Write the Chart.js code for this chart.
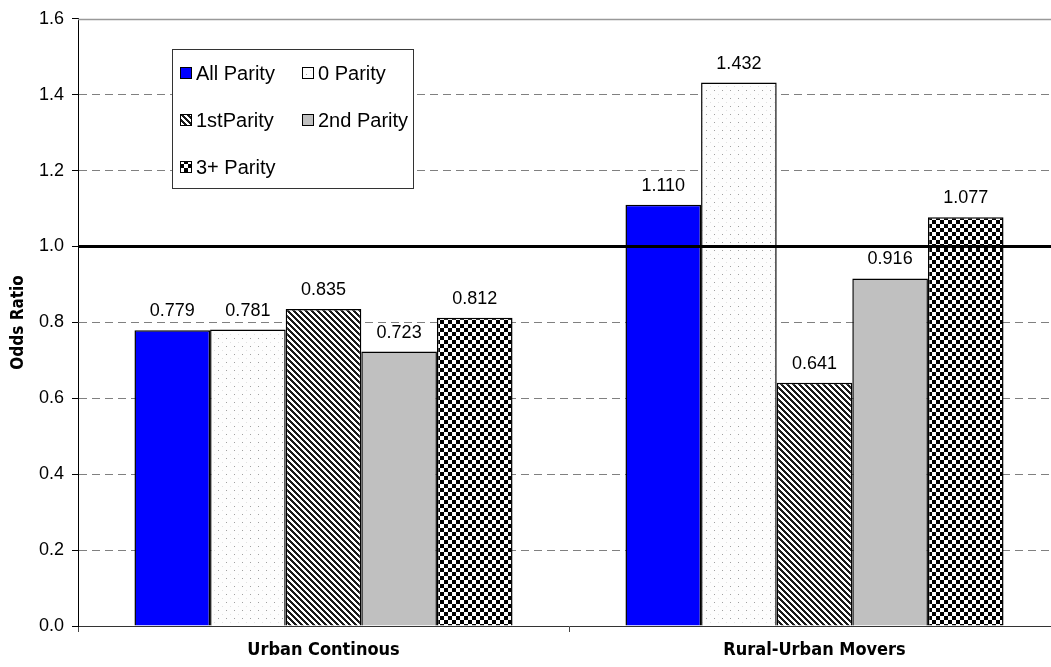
<!DOCTYPE html>
<html>
<head>
<meta charset="utf-8">
<script src="https://cdn.jsdelivr.net/npm/chart.js@4.4.1/dist/chart.umd.min.js"></script>
<style>
  html, body { margin: 0; padding: 0; background: #fff; overflow: hidden; }
  #wrap { width: 1062px; height: 667px; }
</style>
</head>
<body>
<div id="wrap"><canvas id="oddsChart" width="1062" height="667"></canvas></div>
<script>
// Odds ratios by parity for the two migration groups
const groups = ['Urban Continous', 'Rural-Urban Movers'];
const seriesNames = ['All Parity', '0 Parity', '1stParity', '2nd Parity', '3+ Parity'];
const allParity = [0.779, 1.110];
const parity0 = [0.781, 1.432];
const parity1 = [0.835, 0.641];
const parity2 = [0.723, 0.916];
const parity3plus = [0.812, 1.077];
const yTicks = [0, 0.2, 0.4, 0.6, 0.8, 1.0, 1.2, 1.4, 1.6];

const FONT = '"Liberation Sans", Arial, sans-serif';
const NARROW = '"DejaVu Sans Condensed", "Liberation Sans Narrow", ' + FONT;

// small repeating tiles used as bar fills
function makePattern(size, paint) {
  const c = document.createElement('canvas');
  c.width = size; c.height = size;
  const g = c.getContext('2d');
  paint(g, size);
  return document.createElement('canvas').getContext('2d').createPattern(c, 'repeat');
}

const dotFill = makePattern(8, (g, n) => {
  g.fillStyle = '#fdfdfd'; g.fillRect(0, 0, n, n);
  g.fillStyle = '#a0a0a0'; g.fillRect(2, 2, 1, 1);
  g.fillStyle = '#e0e0e0'; g.fillRect(6, 6, 1, 1);
});

const stripeFill = makePattern(6, (g, n) => {
  g.fillStyle = '#fff'; g.fillRect(0, 0, n, n);
  g.fillStyle = '#1a1a1a';
  for (let y = 0; y < n; y++) {
    for (let x = 0; x < n; x++) {
      if (((x - y) % n + n) % n < 3) g.fillRect(x, y, 1, 1);
    }
  }
});

const checkerFill = makePattern(8, (g, n) => {
  g.fillStyle = '#fff'; g.fillRect(0, 0, n, n);
  g.fillStyle = '#000';
  g.fillRect(0, 0, 4, 4);
  g.fillRect(4, 4, 4, 4);
});

const fills = ['#0000ff', dotFill, stripeFill, '#c0c0c0', checkerFill];
const values = [allParity, parity0, parity1, parity2, parity3plus];

// thick reference line at OR = 1, solid top line, value labels, legend box
const overlay = {
  id: 'overlay',
  beforeDatasetsDraw(chart) {
    const { ctx, chartArea: a, scales: { y } } = chart;
    const top = Math.round(y.getPixelForValue(1.6)) + 0.5;
    ctx.save();
    ctx.strokeStyle = '#999';
    ctx.lineWidth = 1.5;
    ctx.beginPath();
    ctx.moveTo(a.left, top);
    ctx.lineTo(a.right, top);
    ctx.stroke();
    ctx.restore();
  },
  afterDatasetsDraw(chart) {
    const { ctx, chartArea: a, scales: { y } } = chart;
    const one = y.getPixelForValue(1.0);
    ctx.save();
    ctx.strokeStyle = '#000';
    ctx.lineWidth = 3;
    ctx.beginPath();
    ctx.moveTo(a.left, one);
    ctx.lineTo(a.right, one);
    ctx.stroke();

    ctx.font = '18px ' + FONT;
    ctx.fillStyle = '#000';
    ctx.textAlign = 'center';
    ctx.textBaseline = 'middle';
    chart.data.datasets.forEach((ds, i) => {
      chart.getDatasetMeta(i).data.forEach((bar, j) => {
        ctx.fillText(ds.data[j].toFixed(3), bar.x, bar.y - 19);
      });
    });
    ctx.restore();
  },
  afterDraw(chart) {
    const { ctx } = chart;
    const box = { x: 172.5, y: 49.5, w: 241, h: 139 };
    ctx.save();
    ctx.fillStyle = '#fff';
    ctx.fillRect(box.x, box.y, box.w, box.h);
    ctx.strokeStyle = '#333';
    ctx.lineWidth = 1;
    ctx.strokeRect(box.x, box.y, box.w, box.h);

    const cols = [180, 302];
    const rows = [73, 120, 167];
    ctx.font = '20px ' + FONT;
    ctx.textBaseline = 'middle';
    ctx.textAlign = 'left';
    chart.data.datasets.forEach((ds, i) => {
      const cx = cols[i % 2];
      const cy = rows[Math.floor(i / 2)];
      ctx.fillStyle = ds.backgroundColor;
      ctx.fillRect(cx, cy - 6, 12, 12);
      ctx.strokeStyle = '#000';
      ctx.lineWidth = 1;
      ctx.strokeRect(cx + 0.5, cy - 5.5, 11, 11);
      ctx.fillStyle = '#000';
      ctx.fillText(ds.label, cx + 16, cy + 1);
    });
    ctx.restore();
  }
};

new Chart(document.getElementById('oddsChart'), {
  type: 'bar',
  data: {
    labels: groups,
    datasets: seriesNames.map((name, i) => ({
      label: name,
      data: values[i],
      backgroundColor: fills[i],
      borderColor: '#000',
      borderWidth: 1.5,
      borderSkipped: 'bottom',
      categoryPercentage: 0.77,
      barPercentage: 1.0
    }))
  },
  options: {
    responsive: false,
    animation: false,
    events: [],
    layout: { padding: { top: 17, right: 2, left: 0, bottom: 0 } },
    plugins: {
      legend: { display: false },
      tooltip: { enabled: false }
    },
    scales: {
      x: {
        grid: {
          offset: true,
          drawOnChartArea: false,
          tickLength: 6,
          tickColor: '#444'
        },
        border: { color: '#333', width: 1 },
        ticks: {
          padding: 8,
          color: '#000',
          font: { family: NARROW, size: 18, weight: 'bold' }
        },
        afterFit(scale) { scale.height = 41; }
      },
      y: {
        min: 0,
        max: 1.6,
        afterBuildTicks(scale) { scale.ticks = yTicks.map(v => ({ value: v })); },
        grid: {
          color: ctx => {
            const v = ctx.tick ? ctx.tick.value : null;
            return (v === 0 || Math.abs(v - 1) < 1e-6 || Math.abs(v - 1.6) < 1e-6) ? 'rgba(0,0,0,0)' : '#808080';
          },
          lineWidth: 1,
          tickLength: 6,
          tickColor: '#000',
          tickBorderDash: []
        },
        border: { color: '#000', width: 1, dash: [8, 5] },
        ticks: {
          padding: 8,
          color: '#000',
          font: { family: FONT, size: 18 },
          callback: v => Number(v).toFixed(1)
        },
        title: {
          display: true,
          text: 'Odds Ratio',
          color: '#000',
          font: { family: NARROW, size: 17, weight: 'bold' },
          padding: { top: 8, bottom: 0 }
        },
        afterFit(scale) { scale.width = 78; }
      }
    }
  },
  plugins: [overlay]
});
</script>
</body>
</html>
